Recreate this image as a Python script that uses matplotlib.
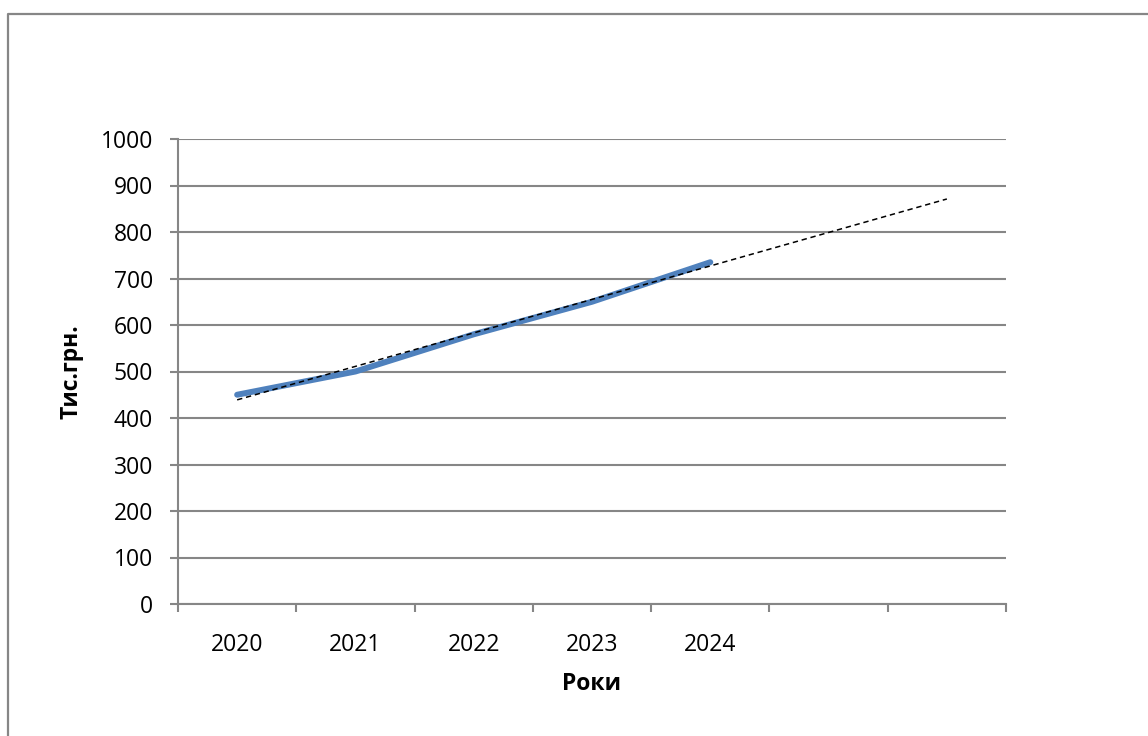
import matplotlib

matplotlib.use("Agg")
import matplotlib.pyplot as plt
from matplotlib.lines import Line2D
import numpy as np

years = ["2020", "2021", "2022", "2023", "2024"]
values = [450, 500, 580, 650, 735]
forecast_periods = 2
y_ticks = [0, 100, 200, 300, 400, 500, 600, 700, 800, 900, 1000]
x_label = "Роки"
y_label = "Тис.грн."

plt.rcParams["font.family"] = ["Open Sans", "DejaVu Sans"]

grey = "#868686"
fig = plt.figure(figsize=(11.48, 7.36), dpi=100)
ax = fig.add_axes([178 / 1148, 132 / 736, 828 / 1148, 465 / 736])

positions = np.arange(len(years))
ax.plot(positions, values, color="#4F81BD", linewidth=4.3,
        solid_capstyle="round", solid_joinstyle="round", zorder=3)

# linear trend line, extended forward like Excel's forecast option
slope, intercept = np.polyfit(positions, values, 1)
trend_x = np.array([0, len(years) - 1 + forecast_periods])
ax.plot(trend_x, slope * trend_x + intercept, color="black",
        linewidth=1.1, linestyle=(0, (3.5, 2.5)), zorder=4)

n_slots = len(years) + forecast_periods
ax.set_xlim(-0.5, n_slots - 0.5)
ax.set_ylim(0, 1000)
ax.set_yticks(y_ticks)
ax.set_xticks(positions)
ax.set_xticklabels(years)
ax.set_xticks(np.arange(n_slots + 1) - 0.5, minor=True)

ax.tick_params(axis="x", which="major", length=0, labelsize=16.5, pad=21)
ax.tick_params(axis="x", which="minor", length=6, width=1.5, color=grey)
ax.tick_params(axis="y", length=6, width=1.5, color=grey,
               labelsize=16.5, pad=12)

ax.grid(axis="y", color=grey, linewidth=1.5)
ax.set_axisbelow(True)
for side in ["top", "right"]:
    ax.spines[side].set_visible(False)
for side in ["left", "bottom"]:
    ax.spines[side].set_color(grey)
    ax.spines[side].set_linewidth(1.5)

ax.set_xlabel(x_label, fontsize=16.5, fontweight="bold", labelpad=11)
ax.set_ylabel(y_label, fontsize=16.5, fontweight="bold", labelpad=12)

# chart-area frame (only top and left edges are visible in the crop)
fig.add_artist(Line2D([8 / 1148, 8 / 1148, 1.0],
                      [0.0, 1 - 14 / 736, 1 - 14 / 736],
                      transform=fig.transFigure, color=grey,
                      linewidth=1.6))

fig.savefig("out.png", dpi=100)
